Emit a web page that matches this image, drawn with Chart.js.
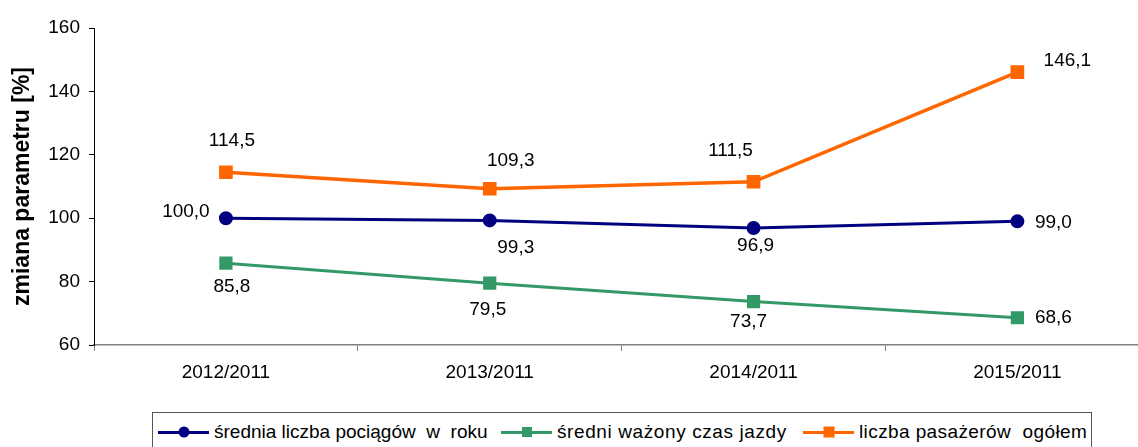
<!DOCTYPE html>
<html lang="pl">
<head>
<meta charset="utf-8">
<title>zmiana parametru</title>
<script src="https://cdn.jsdelivr.net/npm/chart.js@4.4.1/dist/chart.umd.min.js"></script>
<style>
  html, body { margin: 0; padding: 0; background: #fff; overflow: hidden; }
  body { width: 1138px; height: 447px; position: relative; font-family: "Liberation Sans", Arial, sans-serif; }
  #wrap { position: absolute; left: 0; top: 0; width: 1160px; height: 400px; }
  #legend {
    position: absolute; left: 152px; top: 412px; width: 940px; height: 44px;
    border: 1px solid #555; box-sizing: border-box;
    display: flex; align-items: flex-start; padding: 8px 0 0 5px;
    font-size: 19px; color: #000; white-space: pre;
  }
  .item { display: flex; align-items: center; line-height: 22px; }
  .item:nth-child(1) { width: 343px; }
  .item:nth-child(2) { width: 302px; letter-spacing: 0.6px; }
  .item:nth-child(3) { letter-spacing: 0.4px; }
  .sample { position: relative; width: 51px; height: 3px; margin-right: 5px; }
  .mark { position: absolute; left: 50%; top: 50%; transform: translate(-50%, -50%); }
</style>
</head>
<body>
<div id="wrap"><canvas id="chart"></canvas></div>
<div id="legend"></div>
<script>
// categories and series
const categories = ['2012/2011', '2013/2011', '2014/2011', '2015/2011'];
const trains = [100.0, 99.3, 96.9, 99.0];        // średnia liczba pociągów w roku
const travelTime = [85.8, 79.5, 73.7, 68.6];     // średni ważony czas jazdy
const passengers = [114.5, 109.3, 111.5, 146.1]; // liczba pasażerów ogółem
const yTicks = { min: 60, max: 160, step: 20 };

const seriesNames = ['średnia liczba pociągów  w  roku', 'średni ważony czas jazdy', 'liczba pasażerów  ogółem'];

// where each value label sits relative to its point (dx, dy in px)
const labelOffsets = [
  [[-40, -6], [26, 27], [2, 18], [36, 1]],
  [[6, 24], [-2, 27], [-5, 20], [36, 0]],
  [[6, -31], [21, -28], [-23, -31], [50, -11]]
];

const colors = ['#000080', '#339966', '#FF6600'];

const valueLabels = {
  id: 'valueLabels',
  afterDatasetsDraw(chart) {
    const ctx = chart.ctx;
    ctx.save();
    ctx.font = '19px "Liberation Sans", Arial, sans-serif';
    ctx.fillStyle = '#000';
    ctx.textAlign = 'center';
    ctx.textBaseline = 'middle';
    chart.data.datasets.forEach((ds, i) => {
      chart.getDatasetMeta(i).data.forEach((pt, j) => {
        const off = labelOffsets[i][j];
        const txt = ds.data[j].toFixed(1).replace('.', ',');
        ctx.fillText(txt, pt.x + off[0], pt.y + off[1]);
      });
    });
    ctx.restore();
  }
};

const ctx = document.getElementById('chart');
new Chart(ctx, {
  type: 'line',
  data: {
    labels: categories,
    datasets: [
      {
        label: seriesNames[0], data: trains,
        borderColor: colors[0], backgroundColor: colors[0],
        borderWidth: 3, pointStyle: 'circle', pointRadius: 5.5, pointHoverRadius: 5.5,
        tension: 0
      },
      {
        label: seriesNames[1], data: travelTime,
        borderColor: colors[1], backgroundColor: colors[1],
        borderWidth: 3, pointStyle: 'rect', pointRadius: 7.2, pointHoverRadius: 7.2,
        tension: 0
      },
      {
        label: seriesNames[2], data: passengers,
        borderColor: colors[2], backgroundColor: colors[2],
        borderWidth: 3.5, pointStyle: 'rect', pointRadius: 7.2, pointHoverRadius: 7.2,
        tension: 0
      }
    ]
  },
  options: {
    responsive: true,
    maintainAspectRatio: false,
    animation: false,
    layout: { padding: { top: 28, right: 10, left: 0, bottom: 0 } },
    plugins: {
      legend: { display: false },
      tooltip: { enabled: false }
    },
    scales: {
      x: {
        offset: true,
        grid: { display: true, drawOnChartArea: false, offset: true, tickLength: 6, color: '#808080', lineWidth: 1 },
        border: { color: '#808080', width: 1.5 },
        ticks: { color: '#000', padding: 10, font: { size: 19, family: '"Liberation Sans", Arial, sans-serif' } },
        afterFit(scale) { scale.height = 55; }
      },
      y: {
        min: yTicks.min,
        max: yTicks.max,
        grid: { display: true, drawOnChartArea: false, tickLength: 5, color: '#000', lineWidth: 1 },
        border: { color: '#000', width: 1 },
        ticks: { stepSize: yTicks.step, color: '#000', padding: 9, font: { size: 19, family: '"Liberation Sans", Arial, sans-serif' } },
        title: {
          display: true,
          text: 'zmiana parametru [%]',
          color: '#000',
          padding: { top: 9, bottom: 0 },
          font: { size: 23, weight: 'bold', family: '"Liberation Sans", Arial, sans-serif' }
        },
        afterFit(scale) { scale.width = 94; }
      }
    }
  },
  plugins: [valueLabels]
});

// legend with line + marker samples, like the original
const legend = document.getElementById('legend');
const markers = [
  'width:11px;height:11px;border-radius:50%;',
  'width:10px;height:10px;',
  'width:11px;height:11px;'
];
seriesNames.forEach((name, i) => {
  const item = document.createElement('div');
  item.className = 'item';
  const sample = document.createElement('span');
  sample.className = 'sample';
  sample.style.background = colors[i];
  const mark = document.createElement('span');
  mark.className = 'mark';
  mark.style.cssText = markers[i] + 'background:' + colors[i] + ';';
  sample.appendChild(mark);
  const label = document.createElement('span');
  label.textContent = name;
  item.appendChild(sample);
  item.appendChild(label);
  legend.appendChild(item);
});
</script>
</body>
</html>
